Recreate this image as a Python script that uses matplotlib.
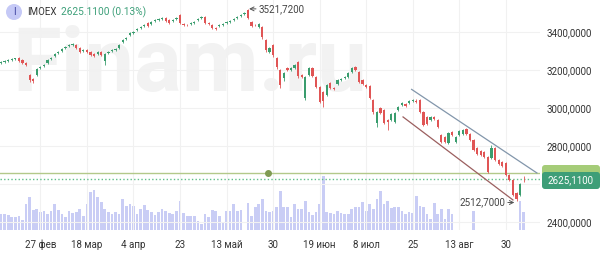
import matplotlib
matplotlib.use('Agg')
import matplotlib.pyplot as plt
from matplotlib.patches import FancyBboxPatch, Circle
from matplotlib.transforms import IdentityTransform
import numpy as np

plt.rcParams['font.family'] = ['Roboto', 'DejaVu Sans']

opens = [3237, 3242, 3247, 3253, 3258, 3263, 3253, 3237, 3174, 3152,
         3174, 3211, 3221, 3237, 3258, 3274, 3289, 3300, 3316, 3326,
         3332, 3332, 3316, 3300, 3305, 3295, 3284, 3284, 3295, 3247,
         3289, 3300, 3305, 3316, 3347, 3363, 3384, 3395, 3411, 3421,
         3432, 3447, 3442, 3458, 3463, 3468, 3474, 3463, 3458, 3468,
         3489, 3442, 3437, 3442, 3447, 3463, 3474, 3479, 3447, 3437,
         3421, 3432, 3437, 3447, 3453, 3463, 3474, 3484, 3494, 3516,
         3453, 3437, 3426, 3426, 3358, 3295, 3332, 3263, 3200, 3158,
         3211, 3200, 3211, 3242, 3174, 3053, 3174, 3211, 3163, 3111,
         3084, 3068, 3132, 3105, 3126, 3147, 3158, 3163, 3189, 3216,
         3189, 3147, 3121, 3116, 3042, 2921, 3000, 2989, 2937, 2937,
         2926, 2989, 3016, 3021, 3026, 3037, 3037, 3042, 2979, 2953,
         2937, 2953, 2937, 2858, 2847, 2816, 2874, 2821, 2858, 2863,
         2889, 2863, 2832, 2790, 2774, 2768, 2742, 2737, 2790, 2726,
         2716, 2711, 2647, 2621, 2553, 2542, 2627]
closes = [3242, 3247, 3253, 3258, 3260, 3247, 3237, 3226, 3147, 3142,
          3205, 3216, 3226, 3253, 3263, 3284, 3295, 3311, 3321, 3332,
          3335, 3316, 3295, 3305, 3295, 3279, 3274, 3295, 3279, 3284,
          3295, 3305, 3311, 3332, 3358, 3368, 3395, 3400, 3416, 3426,
          3437, 3432, 3453, 3463, 3468, 3474, 3458, 3447, 3463, 3474,
          3447, 3437, 3435, 3447, 3453, 3468, 3479, 3447, 3442, 3421,
          3416, 3437, 3442, 3453, 3458, 3468, 3479, 3489, 3500, 3474,
          3432, 3435, 3442, 3374, 3305, 3316, 3279, 3216, 3121, 3184,
          3200, 3211, 3226, 3168, 3163, 3163, 3211, 3168, 3111, 3032,
          3037, 3121, 3105, 3100, 3147, 3152, 3163, 3184, 3211, 3200,
          3137, 3126, 3111, 3053, 2979, 2979, 2974, 2921, 2926, 2968,
          2974, 3005, 3026, 3011, 3037, 3042, 3032, 2979, 2911, 2916,
          2953, 2942, 2900, 2821, 2821, 2868, 2858, 2847, 2879, 2884,
          2863, 2832, 2779, 2758, 2753, 2742, 2663, 2790, 2726, 2705,
          2695, 2647, 2621, 2542, 2521, 2600, 2625.11]
highs = [3247, 3252, 3258, 3263, 3265, 3268, 3258, 3242, 3179, 3158,
         3211, 3221, 3232, 3258, 3268, 3289, 3300, 3316, 3326, 3337,
         3340, 3337, 3321, 3311, 3311, 3300, 3289, 3300, 3300, 3289,
         3300, 3311, 3316, 3337, 3363, 3374, 3400, 3405, 3421, 3432,
         3442, 3453, 3458, 3468, 3474, 3479, 3479, 3468, 3468, 3479,
         3495, 3447, 3442, 3453, 3458, 3474, 3484, 3484, 3453, 3442,
         3426, 3442, 3447, 3458, 3463, 3474, 3484, 3494, 3505, 3521.72,
         3458, 3442, 3447, 3432, 3363, 3321, 3337, 3268, 3205, 3189,
         3216, 3216, 3232, 3247, 3179, 3168, 3216, 3216, 3168, 3116,
         3089, 3126, 3137, 3111, 3152, 3158, 3168, 3189, 3216, 3221,
         3195, 3152, 3126, 3121, 3047, 2984, 3005, 2995, 2942, 2974,
         2979, 3011, 3032, 3026, 3042, 3047, 3047, 3047, 2984, 2958,
         2958, 2958, 2942, 2863, 2853, 2874, 2879, 2853, 2884, 2889,
         2895, 2868, 2837, 2795, 2779, 2774, 2747, 2805, 2795, 2732,
         2721, 2716, 2653, 2626, 2558, 2605, 2640]
lows = [3232, 3237, 3242, 3248, 3253, 3242, 3232, 3221, 3137, 3132,
        3168, 3205, 3216, 3232, 3253, 3268, 3284, 3295, 3311, 3321,
        3326, 3311, 3289, 3295, 3289, 3274, 3268, 3279, 3274, 3226,
        3284, 3295, 3300, 3311, 3342, 3358, 3379, 3389, 3405, 3416,
        3426, 3426, 3437, 3453, 3458, 3463, 3453, 3442, 3453, 3463,
        3442, 3432, 3430, 3437, 3442, 3458, 3468, 3442, 3437, 3416,
        3411, 3426, 3432, 3442, 3447, 3458, 3468, 3479, 3489, 3468,
        3426, 3430, 3421, 3363, 3295, 3289, 3268, 3205, 3105, 3142,
        3195, 3195, 3205, 3158, 3158, 3042, 3168, 3163, 3105, 3026,
        3005, 3063, 3100, 3095, 3121, 3142, 3152, 3158, 3184, 3195,
        3132, 3121, 3105, 3047, 2968, 2900, 2968, 2916, 2884, 2932,
        2921, 2984, 3011, 3005, 3021, 3032, 3026, 2974, 2905, 2911,
        2932, 2937, 2895, 2816, 2816, 2811, 2853, 2816, 2853, 2858,
        2858, 2826, 2774, 2753, 2747, 2737, 2658, 2732, 2721, 2700,
        2690, 2642, 2616, 2535, 2512.70, 2537, 2612]
volumes = [16, 16, 15, 13, 13, 14, 10, 26, 33, 20,
           21, 18, 19, 16, 19, 26, 20, 16, 13, 19,
           17, 18, 21, 14, 26, 38, 40, 33, 28, 21,
           18, 16, 18, 16, 31, 24, 26, 24, 16, 21,
           25, 20, 18, 15, 18, 21, 19, 17, 16, 19,
           29, 17, 14, 14, 14, 9, 6, 16, 13, 20,
           19, 14, 8, 19, 19, 26, 19, 20, 0, 27,
           14, 23, 26, 31, 19,
           18, 19, 23, 39, 23, 23, 13, 26, 21, 21,
           29, 18, 15, 18, 26, 54, 18, 17, 16, 19,
           17, 16, 16, 21, 23, 23, 28, 19, 26, 21,
           31, 39, 26, 29, 22, 23, 23, 19, 16, 18,
           17, 34, 24, 23, 16, 11, 27, 16, 21, 11,
           21, 16, 0, 0, 0, 0, 0, 19,
           0, 0, 0, 0, 0, 0, 0, 0, 0, 0, 0, 0, 29, 18]
tick_idx = [11, 24, 37, 50, 63, 76, 89, 102, 115, 128, 141]
tick_labels = ['27 фев', '18 мар', '4 апр', '23', '13 май', '30',
               '19 июн', '8 июл', '25', '13 авг', '30']
price_ticks = [2400, 2600, 2800, 3000, 3200, 3400]
hidden_tick = 2600
level_price = 2658
level_anchor = 74.6
last_price = 2625.11
peak_idx, peak_val = 69, 3521.72
trough_idx, trough_val = 144, 2512.70
upper_x = [114.7, 149.7]
upper_y = [3098, 2658]
lower_x = [112.3, 143.0]
lower_y = [2953, 2516]

W, H = 600, 260
fig = plt.figure(figsize=(6, 2.6), dpi=100)
fig.patch.set_facecolor('white')

ax2 = fig.add_axes([0, 1 - 230 / H, 540 / W, 230 / H])
ax = fig.add_axes([0, 1 - 230 / H, 540 / W, 230 / H], sharex=ax2)
ax.patch.set_visible(False)
ax2.patch.set_visible(False)

idx = np.arange(len(closes))
xlim = (-0.28, 150.56)

# volume
ax2.bar(idx, volumes, width=0.75, color='#c9cdf5', zorder=1)
ax2.set_ylim(0, 230)
ax2.axis('off')

# watermark
ax.text(12 / W, 1 - 91 / H, 'Finam.ru', transform=fig.transFigure, fontsize=64,
        fontweight='bold', color='#f2f2f2', va='baseline', ha='left', zorder=0.2)

o = np.array(opens); c = np.array(closes)
h = np.array(highs); l = np.array(lows)
up = c >= o
cols = np.where(up, '#3a9d6e', '#e05555')
ax.vlines(idx, l, h, colors=cols, lw=0.6, zorder=3)
bottoms = np.minimum(o, c)
heights = np.maximum(np.abs(c - o), 3.5)
ax.bar(idx, heights, bottom=bottoms, width=0.62, color=cols, zorder=4, linewidth=0)

# horizontal lines
ax.axhline(level_price, color='#b3c98a', lw=1.0, zorder=2)
ax.plot([level_anchor], [level_price], 'o', ms=4, color='#7f9b52', zorder=5)
ax.axhline(last_price, color='#5fbf8a', lw=1.0, ls=(0, (1, 1.6)), zorder=2)

# channel
ax.plot(upper_x, upper_y, color='#8296ab', lw=0.9, zorder=5)
ax.plot(lower_x, lower_y, color='#9b5f5f', lw=0.9, zorder=5)

# annotations
ax.annotate(f'{peak_val:.4f}'.replace('.', ','), xy=(peak_idx + 0.3, peak_val),
            xytext=(peak_idx + 3.0, peak_val), va='center', ha='left', fontsize=7,
            color='#444444', zorder=6,
            arrowprops=dict(arrowstyle='->', color='#555555', lw=0.7, shrinkA=0, shrinkB=0))
ax.annotate(f'{trough_val:.4f}'.replace('.', ','), xy=(trough_idx - 0.6, trough_val - 10),
            xytext=(trough_idx - 3.2, trough_val - 10), va='center', ha='right', fontsize=7,
            color='#444444', zorder=6,
            arrowprops=dict(arrowstyle='->', color='#555555', lw=0.7, shrinkA=0, shrinkB=0))

ax.set_xlim(*xlim)
ax.set_ylim(2357.9, 3568.4)
ax.set_xticks(tick_idx)
ax.set_xticklabels(tick_labels)
ax.set_yticks(price_ticks)
ax.set_yticklabels(['' if v == hidden_tick else f'{v:.4f}'.replace('.', ',')
                    for v in price_ticks])
ax.yaxis.tick_right()
ax.tick_params(axis='both', length=0, labelsize=7, colors='#333333')
ax.tick_params(axis='y', pad=5)
ax.tick_params(axis='x', pad=7)
ax.grid(True, color='#f1f1f1', lw=0.8, zorder=0.5)
ax.set_axisbelow(True)
for s in ax.spines.values():
    s.set_visible(False)

# price label boxes (display pixel coords)
tr = IdentityTransform()
fig.patches.append(FancyBboxPatch((542, H - 181), 58, 16, boxstyle='round,pad=0,rounding_size=3',
                                  transform=tr, facecolor='#a5cc78', edgecolor='none', zorder=5))
fig.patches.append(FancyBboxPatch((542, H - 189), 58, 17, boxstyle='round,pad=0,rounding_size=3',
                                  transform=tr, facecolor='#3e9e78', edgecolor='none', zorder=6))
fig.text(570 / W, 1 - 180.5 / H, f'{last_price:.4f}'.replace('.', ','), color='white',
         fontsize=7, ha='center', va='center', zorder=7)

# title
fig.patches.append(Circle((14, H - 12), 8, transform=tr, facecolor='#c5c9f6', edgecolor='none'))
fig.text(14 / W, 1 - 12 / H, 'I', color='#3a3f9e', fontsize=7, ha='center', va='center')
fig.text(27 / W, 1 - 12 / H, 'IMOEX', color='#333333', fontsize=7, ha='left', va='center')
fig.text(61 / W, 1 - 12 / H, '2625.1100 (0.13%)', color='#3ea07a', fontsize=7.3,
         ha='left', va='center')

fig.savefig('out.png', dpi=100, facecolor='white')
